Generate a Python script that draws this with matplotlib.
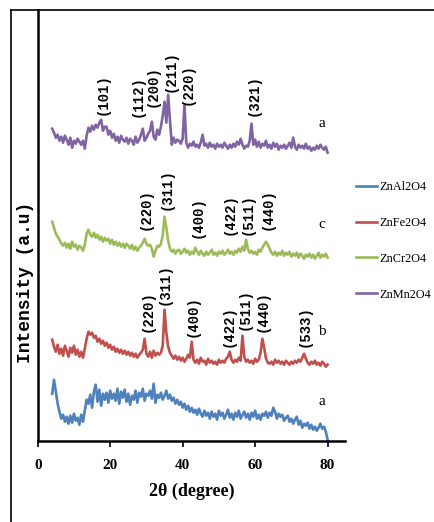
import numpy as np
import matplotlib
matplotlib.use('Agg')
import matplotlib.pyplot as plt
from matplotlib.lines import Line2D

# ---------------- data ----------------
theta = np.arange(4.0, 80.01, 0.5)

zn_mn = [312, 308, 303, 306, 300, 304, 298, 305, 301, 296,
         303, 293, 300, 297, 302, 299, 296, 300, 292, 305,
         313, 309, 315, 311, 316, 313, 318, 321, 310, 314,
         314, 306, 310, 303, 307, 300, 304, 298, 305, 301,
         299, 303, 297, 302, 300, 296, 304, 298, 301, 306,
         312, 300, 303, 307, 310, 319, 304, 301, 311, 306,
         314, 325, 339, 318, 346, 320, 296, 303, 298, 301,
         300, 297, 302, 336, 298, 293, 297, 295, 299, 294,
         296, 293, 298, 306, 295, 297, 293, 298, 294, 296,
         292, 297, 294, 296, 293, 298, 295, 292, 296, 293,
         297, 294, 299, 296, 302, 296, 292, 295, 294, 300,
         317, 296, 301, 294, 299, 293, 297, 295, 300, 293,
         296, 292, 298, 294, 297, 291, 295, 293, 296, 292,
         295, 298, 293, 303, 294, 291, 296, 293, 295, 292,
         297, 292, 294, 290, 293, 291, 295, 292, 296, 293,
         291, 294, 288]

zn_cr = [219, 213, 207, 204, 201, 197, 195, 198, 193, 197,
         192, 199, 194, 196, 191, 195, 193, 190, 196, 207,
         211, 206, 204, 208, 203, 206, 201, 204, 199, 203,
         200, 202, 197, 201, 196, 199, 195, 198, 194, 197,
         193, 197, 195, 192, 196, 191, 194, 190, 193, 195,
         198, 202, 197, 195, 196, 192, 184, 190, 195, 194,
         197, 205, 224, 213, 200, 192, 189, 191, 187, 190,
         191, 187, 189, 192, 188, 190, 186, 189, 187, 193,
         189, 186, 190, 187, 185, 189, 186, 188, 191, 186,
         188, 185, 189, 187, 190, 186, 188, 191, 187, 189,
         186, 190, 188, 192, 189, 194, 190, 201, 192, 188,
         190, 187, 189, 186, 191, 189, 193, 196, 199, 196,
         192, 188, 186, 189, 185, 188, 186, 190, 185, 188,
         186, 189, 184, 187, 185, 188, 183, 187, 185, 182,
         186, 184, 187, 183, 186, 182, 185, 188, 183, 186,
         184, 187, 183]

zn_fe = [101, 94, 89, 96, 87, 92, 85, 95, 90, 84,
         93, 88, 95, 86, 91, 84, 89, 83, 92, 102,
         109, 106, 108, 103, 105, 99, 102, 97, 100, 95,
         98, 93, 96, 91, 94, 89, 92, 88, 91, 87,
         90, 86, 89, 85, 88, 84, 87, 83, 86, 88,
         91, 102, 87, 84, 89, 83, 90, 85, 88, 86,
         88, 95, 131, 108, 94, 88, 85, 82, 85, 81,
         84, 80, 83, 79, 82, 86, 83, 99, 81, 78,
         81, 77, 83, 79, 80, 76, 82, 78, 80, 77,
         79, 76, 81, 78, 80, 78, 82, 84, 89, 81,
         78, 81, 79, 83, 80, 105, 84, 79, 81, 78,
         80, 77, 82, 79, 81, 88, 102, 93, 82, 78,
         77, 79, 76, 81, 78, 80, 77, 79, 76, 80,
         78, 76, 79, 77, 80, 78, 81, 79, 83, 87,
         82, 78, 76, 79, 77, 80, 76, 78, 75, 79,
         77, 74, 76]

zn_al = [47, 61, 49, 37, 29, 22, 26, 19, 24, 17,
         25, 18, 27, 20, 23, 16, 26, 19, 30, 41,
         37, 46, 33, 49, 56, 39, 51, 35, 47, 41,
         48, 38, 50, 42, 47, 40, 52, 37, 49, 43,
         51, 39, 47, 36, 45, 41, 50, 38, 48, 44,
         52, 40, 47, 45, 50, 42, 57, 38, 46, 43,
         48, 41, 45, 50, 42, 46, 40, 43, 37, 41,
         36, 39, 33, 37, 31, 35, 29, 33, 28, 31,
         26, 32, 27, 24, 30, 25, 28, 22, 29, 24,
         27, 21, 30, 25, 28, 22, 26, 31, 23, 27,
         21, 28, 24, 30, 22, 26, 29, 23, 27, 21,
         28, 24, 30, 22, 26, 21, 27, 25, 29, 23,
         28, 25, 33, 29, 22, 27, 24, 26, 20, 23,
         25, 19, 22, 17, 21, 24, 16, 20, 13, 17,
         15, 18, 12, 16, 11, 14, 10, 13, 17, 12,
         14, 9, 1]

names = ['ZnAl2O4', 'ZnFe2O4', 'ZnCr2O4', 'ZnMn2O4']
curve_tags = ['a', 'b', 'c', 'a']

mn_hkl = ['(101)', '(112)', '(200)', '(211)', '(220)', '(321)']
mn_pos = [18.0, 27.6, 31.8, 36.8, 41.4, 59.7]
cr_hkl = ['(220)', '(311)', '(400)', '(422)', '(511)', '(440)']
cr_pos = [29.9, 35.7, 44.2, 53.1, 57.8, 63.5]
fe_hkl = ['(220)', '(311)', '(400)', '(422)', '(511)', '(440)', '(533)']
fe_pos = [30.2, 35.1, 42.8, 52.8, 57.2, 62.2, 73.7]

# ---------------- layout / style ----------------
colors = ['#4F81BD', '#C0504D', '#9BBB59', '#8064A2']
mn_lab_y = [326, 324, 334, 349, 336, 325]
cr_lab_y = [211, 231, 203, 206, 206, 211]
fe_lab_y = [109, 136, 104, 94, 111, 109, 94]
tag_y = [39, 109, 216, 317]

fig = plt.figure(figsize=(4.35, 5.22), dpi=100)
ax = fig.add_axes([37.7/435, 1-440.7/522, 307.3/435, 430.7/522])

series = [zn_al, zn_fe, zn_cr, zn_mn]
for y, c, n in zip(series, colors, names):
    ax.plot(theta, y, color=c, lw=1.9, label=n)

ax.set_xlim(0, 84.8)
ax.set_ylim(0, 430.7)
ax.set_xticks([0, 20, 40, 60, 80])
ax.set_yticks([])
for s in ['top', 'right']:
    ax.spines[s].set_visible(False)
for s in ['left', 'bottom']:
    ax.spines[s].set_linewidth(1.8)
ax.tick_params(axis='x', direction='out', length=4, width=1.2, pad=9)
for lab in ax.get_xticklabels():
    lab.set_fontfamily('Liberation Serif')
    lab.set_fontsize(11)
    lab.set_fontweight('bold')

ax.set_xlabel('2θ (degree)', fontfamily='Liberation Serif', fontsize=13,
              fontweight='bold', labelpad=8)
ax.set_ylabel('Intensity (a.u)', fontfamily='Liberation Mono', fontsize=13,
              fontweight='bold')
ax.yaxis.set_label_coords(-0.012, 0.368)

mono = dict(fontfamily='Liberation Mono', fontweight='bold', fontsize=10,
            rotation=90, ha='center', va='bottom')
for hkls, pos, ys in [(mn_hkl, mn_pos, mn_lab_y), (cr_hkl, cr_pos, cr_lab_y),
                      (fe_hkl, fe_pos, fe_lab_y)]:
    for h, p, yy in zip(hkls, pos, ys):
        ax.text(p, yy, h, **mono)

for t, yy in zip(curve_tags, tag_y):
    ax.text(78.3, yy, t, fontfamily='Liberation Serif', fontsize=11,
            ha='center', va='center')

ax.legend(loc='upper left', bbox_to_anchor=(356/435, 1-181/522),
          bbox_transform=fig.transFigure, frameon=False, borderpad=0,
          borderaxespad=0, handlelength=1.75, handletextpad=0.15,
          labelspacing=1.95, prop={'family': 'Liberation Serif', 'size': 8.8})

# outer frame lines
fig.add_artist(Line2D([11/435, 11/435], [0, 1-10/522], color='black',
                      lw=1.2, transform=fig.transFigure))
fig.add_artist(Line2D([11/435, 1], [1-10/522, 1-10/522], color='black',
                      lw=1.2, transform=fig.transFigure))

fig.savefig('out.png', dpi=100, facecolor='white')
